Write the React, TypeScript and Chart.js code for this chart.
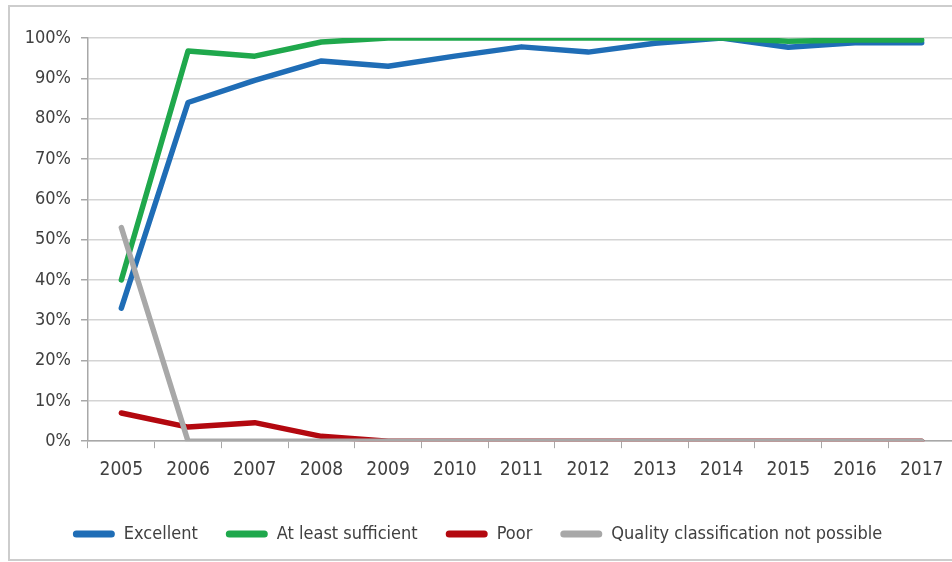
import React, { useEffect, useRef } from "react";
import { Chart, registerables } from "chart.js";

Chart.register(...registerables);

const years = ["2005", "2006", "2007", "2008", "2009", "2010", "2011", "2012", "2013", "2014", "2015", "2016", "2017"];
const excellent = [33, 84, 89.5, 94.3, 93, 95.5, 97.8, 96.5, 98.7, 100, 97.7, 98.8, 98.8];
const atLeastSufficient = [40, 96.8, 95.5, 99, 100, 100, 100, 100, 100, 100, 99.2, 99.5, 99.5];
const poor = [7, 3.5, 4.6, 1.2, 0, 0, 0, 0, 0, 0, 0, 0, 0];
const notPossible = [53, 0, 0, 0, 0, 0, 0, 0, 0, 0, 0, 0, 0];
const yTicks = [0, 10, 20, 30, 40, 50, 60, 70, 80, 90, 100];

const FONT = '"Liberation Sans Narrow", "DejaVu Sans Condensed", "Liberation Sans", sans-serif';
const TEXT = "#404040";

export default function App() {
  const ref = useRef<HTMLCanvasElement | null>(null);

  useEffect(() => {
    document.body.style.margin = "0";
    const ctx = ref.current!;
    const chart = new Chart(ctx, {
      type: "line",
      data: {
        labels: years,
        datasets: [
          { label: "Excellent", data: excellent, borderColor: "#1f6db6", backgroundColor: "#1f6db6", order: 3 },
          { label: "At least sufficient", data: atLeastSufficient, borderColor: "#1fa84c", backgroundColor: "#1fa84c", order: 2 },
          { label: "Poor", data: poor, borderColor: "#b3080f", backgroundColor: "#b3080f", order: 1 },
          { label: "Quality classification not possible", data: notPossible, borderColor: "#a8a8a8", backgroundColor: "#a8a8a8", order: 0 },
        ],
      },
      options: {
        animation: false,
        responsive: false,
        maintainAspectRatio: false,
        elements: {
          line: { borderWidth: 5.5, tension: 0, borderCapStyle: "round", borderJoinStyle: "round" },
          point: { radius: 0, hoverRadius: 0 },
        },
        layout: { padding: { top: 38, left: 0, right: 5, bottom: 9 } },
        scales: {
          x: {
            offset: true,
            afterFit: (s: any) => {
              s.height += 6;
            },
            grid: { drawOnChartArea: false, drawTicks: true, tickLength: 7, color: "#a8a8a8", offset: true },
            border: { color: "#a8a8a8", width: 1.5 },
            ticks: { color: TEXT, font: { family: FONT, size: 19 }, padding: 10, maxRotation: 0 },
          },
          y: {
            min: 0,
            max: 100,
            afterBuildTicks: (s: any) => {
              s.ticks = yTicks.map((v) => ({ value: v }));
            },
            afterFit: (s: any) => {
              s.width = 88;
            },
            grid: { color: "#d4d4d4", lineWidth: 1.5, tickLength: 7, tickColor: "#a8a8a8" },
            border: { color: "#a8a8a8", width: 1.5 },
            ticks: {
              color: TEXT,
              font: { family: FONT, size: 18 },
              padding: 10,
              callback: (v: any) => v + "%",
            },
          },
        },
        plugins: {
          tooltip: { enabled: false },
          legend: {
            position: "bottom",
            labels: {
              boxWidth: 42,
              boxHeight: 7,
              padding: 28,
              color: TEXT,
              font: { family: FONT, size: 18 },
              useBorderRadius: true,
              borderRadius: 3.5,
              sort: (a: any, b: any) => a.datasetIndex - b.datasetIndex,
              generateLabels: (c: any) =>
                (Chart.defaults.plugins.legend.labels as any).generateLabels(c).map((l: any) => ({ ...l, lineWidth: 0 })),
            },
          },
        },
      },
    });
    return () => chart.destroy();
  }, []);

  return (
    <div style={{ position: "relative", width: 952, height: 562, overflow: "hidden", background: "#fff" }}>
      <canvas ref={ref} width={960} height={562} style={{ position: "absolute", left: 0, top: 0, width: 960, height: 562 }} />
      <div
        style={{
          position: "absolute",
          left: 8,
          top: 5,
          width: 980,
          height: 552,
          border: "2px solid #cdcdcd",
          pointerEvents: "none",
        }}
      />
    </div>
  );
}
